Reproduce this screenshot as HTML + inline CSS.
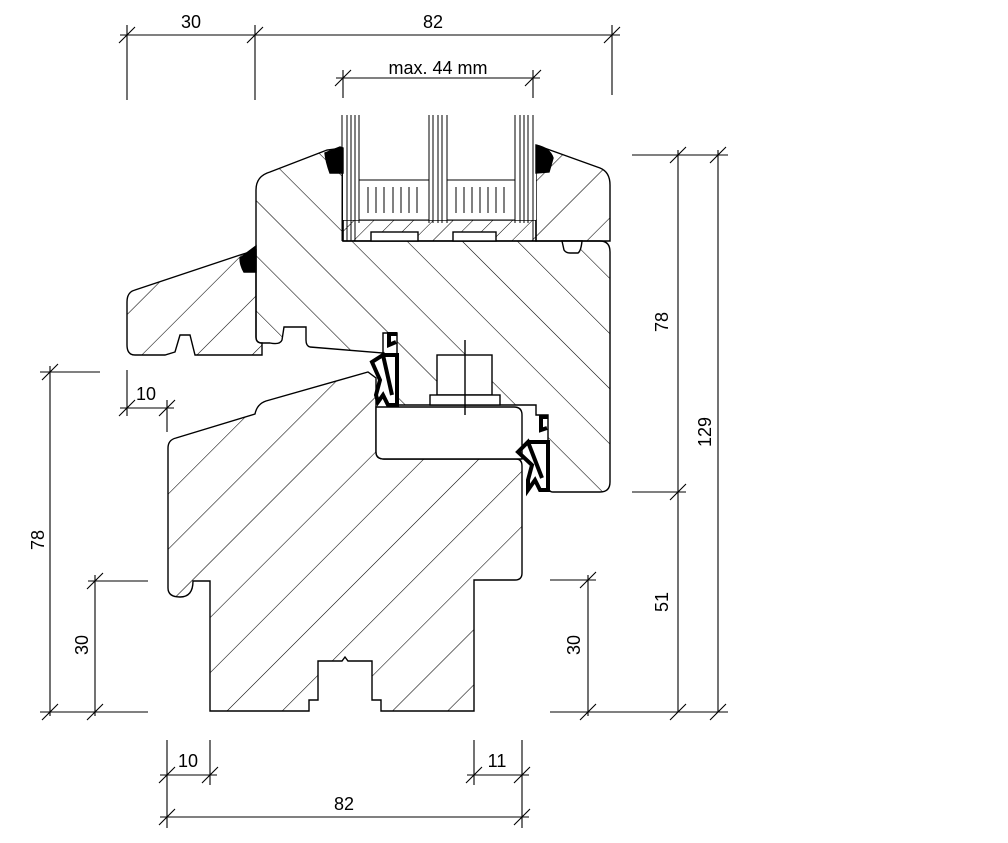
<!DOCTYPE html>
<html><head><meta charset="utf-8"><style>
html,body{margin:0;padding:0;background:#fff;}
svg{display:block;}
text{font-family:"Liberation Sans",Arial,sans-serif;font-size:18px;fill:#000;}
</style></head><body>
<svg width="1008" height="843" viewBox="0 0 1008 843" xmlns="http://www.w3.org/2000/svg">
<defs>
<pattern id="hb" width="39" height="39" patternUnits="userSpaceOnUse" patternTransform="rotate(45)">
<line x1="0" y1="0" x2="0" y2="39" stroke="#000" stroke-width="1.1"/></pattern>
<pattern id="hf" width="39" height="39" patternUnits="userSpaceOnUse" patternTransform="rotate(-45)">
<line x1="0" y1="0" x2="0" y2="39" stroke="#000" stroke-width="1.1"/></pattern>
<pattern id="hs" width="14" height="14" patternUnits="userSpaceOnUse" patternTransform="rotate(45)">
<line x1="0" y1="0" x2="0" y2="14" stroke="#000" stroke-width="1"/></pattern>
</defs>
<g fill="none" stroke="#000" stroke-width="1.4">
<path fill="url(#hb)" d="M176,438 L255,414 Q257,404 266,401 L368,372 L376,378 L376,452 Q376,459 384,459 L516,459 Q522,459 522,466 L522,573 Q522,580 515,580 L474,580 L474,711 L381,711 L381,700 L372,700 L372,661 L348,661 L345,657 L342,661 L318,661 L318,700 L309,700 L309,711 L210,711 L210,581 L193,581 Q193,597 180,597 Q168,597 168,588 L168,448 Q168,440 176,438 Z"/>
<path fill="#fff" d="M376,407 L514,407 Q522,407 522,415 L522,459 L384,459 Q376,459 376,452 Z"/>
<path fill="url(#hf)" d="M256,190 Q256,176 270,172 L327,150 L343,148 L343,241 L600,241 Q610,241 610,252 L610,482 Q610,492 600,492 L553,492 Q548,492 548,485 L548,415 L536,415 L536,405 L397,405 L397,333 L383,333 L383,353 L310,347 Q306,346 306,340 L306,327 L284,327 L282,340 Q280,345 270,343 L262,343 Q256,343 256,337 Z"/>
<path fill="#fff" d="M562,241 L564,250 Q566,253 570,253 L578,253 Q581,251 582,241 Z"/>
<path fill="url(#hb)" d="M536,145 L600,168 Q610,172 610,185 L610,241 L536,241 Z"/>
<path fill="url(#hb)" d="M135,290 L240,255 L256,250 L256,337 Q256,343 262,343 L262,355 L195,355 L190,335 L180,335 L175,352 L165,355 L135,355 Q127,355 127,345 L127,302 Q127,292 135,290 Z"/>
<rect x="343" y="220" width="193" height="21" fill="url(#hs)"/>
<rect x="371" y="232" width="47" height="9" fill="#fff"/>
<rect x="453" y="232" width="43" height="9" fill="#fff"/>
<rect x="343" y="115" width="193" height="105" fill="#fff" stroke="none"/>
<g stroke-width="1">
<line x1="342" y1="115" x2="342" y2="241"/><line x1="347" y1="115" x2="347" y2="241"/><line x1="351" y1="115" x2="351" y2="241"/><line x1="355" y1="115" x2="355" y2="241"/><line x1="359" y1="115" x2="359" y2="223"/>
<line x1="429" y1="115" x2="429" y2="223"/><line x1="433" y1="115" x2="433" y2="223"/><line x1="438" y1="115" x2="438" y2="223"/><line x1="442" y1="115" x2="442" y2="223"/><line x1="447" y1="115" x2="447" y2="223"/>
<line x1="515" y1="115" x2="515" y2="223"/><line x1="520" y1="115" x2="520" y2="223"/><line x1="524" y1="115" x2="524" y2="223"/><line x1="528" y1="115" x2="528" y2="223"/><line x1="533" y1="115" x2="533" y2="241"/>
<rect x="359" y="180" width="70" height="40"/><rect x="447" y="180" width="68" height="40"/>
<path d="M368,187v26M376,187v26M384,187v26M393,187v26M401,187v26M409,187v26M417,187v26M456,187v26M464,187v26M472,187v26M480,187v26M488,187v26M496,187v26M504,187v26"/>
</g>
<path fill="#000" d="M325,153 L340,147 L343,148 L343,173 L330,173 Q326,162 325,153 Z"/>
<path fill="#000" d="M536,145 Q550,148 553,158 L549,172 L536,173 Z"/>
<path fill="#000" d="M240,258 L256,246 L256,272 L244,272 Q240,265 240,258 Z"/>
<rect x="437" y="355" width="55" height="40" fill="#fff"/>
<rect x="430" y="395" width="70" height="10" fill="#fff"/>
<line x1="465" y1="340" x2="465" y2="415"/>
<g stroke-width="4">
<path d="M397,334 L389,334 L389,345 L396,342 M383,355 L397,355 L397,405 L388,405 L383,395 L378,402 L376,395 L380,380 L372,362 L383,355 L392,395"/>
<path d="M548,417 L541,417 L541,430 L547,428 M528,442 L548,442 L548,490 L540,490 L535,480 L528,490 L528,480 L532,465 L518,452 L528,442 L542,478"/>
</g>
</g>
<g stroke="#000" stroke-width="1.1" fill="none">
<path d="M127,25V100M255,25V100M612,25V95M120,35H620M343,70V98M533,70V98M336,78H540"/>
<path d="M119,43l16,-16M247,43l16,-16M604,43l16,-16M335,86l16,-16M525,86l16,-16"/>
<path d="M632,155H728M632,492H686M550,712H728M678,150V712M718,150V712M550,580H596M588,575V716"/>
<path d="M670,163l16,-16M710,163l16,-16M670,500l16,-16M670,720l16,-16M710,720l16,-16M580,588l16,-16M580,720l16,-16"/>
<path d="M40,372H100M40,712H148M50,366V716M88,581H148M95,575V716"/>
<path d="M42,380l16,-16M42,720l16,-16M87,589l16,-16M87,720l16,-16"/>
<path d="M127,370V416M167,400V432M120,408H174M119,416l16,-16M159,416l16,-16"/>
<path d="M167,740V828M210,740V785M474,740V785M522,740V828M160,775H217M467,775H529M160,817H529"/>
<path d="M159,783l16,-16M202,783l16,-16M466,783l16,-16M514,783l16,-16M159,825l16,-16M514,825l16,-16"/>
</g>
<g>
<text x="191" y="28" text-anchor="middle">30</text>
<text x="433" y="28" text-anchor="middle">82</text>
<text x="438" y="74" text-anchor="middle">max. 44 mm</text>
<text x="146" y="400" text-anchor="middle">10</text>
<text x="188" y="767" text-anchor="middle">10</text>
<text x="497" y="767" text-anchor="middle">11</text>
<text x="344" y="810" text-anchor="middle">82</text>
<text transform="translate(44,540) rotate(-90)" text-anchor="middle">78</text>
<text transform="translate(88,645) rotate(-90)" text-anchor="middle">30</text>
<text transform="translate(580,645) rotate(-90)" text-anchor="middle">30</text>
<text transform="translate(668,322) rotate(-90)" text-anchor="middle">78</text>
<text transform="translate(711,432) rotate(-90)" text-anchor="middle">129</text>
<text transform="translate(668,602) rotate(-90)" text-anchor="middle">51</text>
</g>
</svg>
</body></html>
